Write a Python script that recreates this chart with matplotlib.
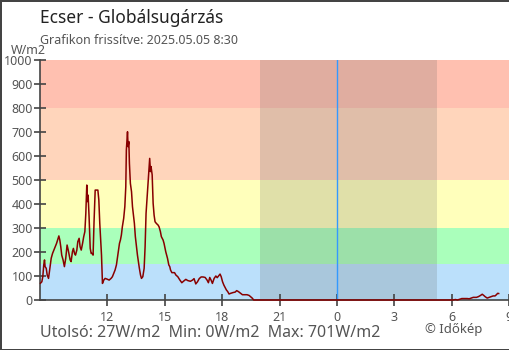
import matplotlib

matplotlib.use("Agg")

import matplotlib.pyplot as plt

plt.rcParams["font.family"] = ["Noto Sans", "DejaVu Sans"]

# hours since midnight of the first day (24+ = next day)
hours = [
    8.50, 8.57, 8.62, 8.67, 8.71, 8.74, 8.80, 8.85, 8.92, 8.99,
    9.06, 9.13, 9.20, 9.27, 9.34, 9.41, 9.46, 9.51, 9.56, 9.61,
    9.68, 9.75, 9.82, 9.89, 9.95, 10.00, 10.05, 10.10, 10.17, 10.22,
    10.28, 10.33, 10.40, 10.45, 10.52, 10.57, 10.63, 10.70, 10.76, 10.82,
    10.87, 10.92, 10.96, 10.99, 11.04, 11.10, 11.15, 11.20, 11.25, 11.30,
    11.36, 11.44, 11.50, 11.55, 11.60,
    11.69, 11.74, 11.81, 11.88, 11.98, 12.09, 12.19, 12.26, 12.33, 12.40,
    12.47, 12.52, 12.58, 12.63, 12.68, 12.73, 12.78, 12.85, 12.91, 12.96,
    12.99, 13.05, 13.08, 13.12, 13.15, 13.20, 13.26, 13.31, 13.36, 13.41,
    13.46, 13.52, 13.57, 13.62, 13.67, 13.73, 13.78, 13.85, 13.92, 13.97,
    14.02, 14.09, 14.16, 14.21, 14.25, 14.28, 14.34, 14.39, 14.44, 14.49,
    14.56, 14.65, 14.70, 14.77, 14.82, 14.91, 14.96, 15.05, 15.14, 15.21,
    15.26,
    15.30, 15.37, 15.51, 15.58, 15.68, 15.79, 15.89, 15.99, 16.10, 16.20,
    16.34, 16.45, 16.53, 16.62, 16.71, 16.80, 16.90, 17.00, 17.11, 17.21,
    17.28, 17.35, 17.42, 17.49, 17.58, 17.67, 17.74, 17.81, 17.89, 17.95,
    18.02, 18.09, 18.15, 18.22, 18.29, 18.36, 18.45, 18.57, 18.68, 18.76,
    18.85, 18.96, 19.06, 19.20, 19.30, 19.41, 19.48, 19.57, 19.65,
    30.00,
    30.08, 30.20, 30.30, 30.39, 30.46, 30.53, 30.67, 30.81, 30.92, 31.02,
    31.13, 31.30, 31.40, 31.51, 31.60, 31.68, 31.75, 31.86, 31.96, 32.07,
    32.17, 32.27, 32.34, 32.41, 32.46,
]
radiation = [
    70, 76, 97, 146, 167, 139, 132, 104, 90, 132,
    174, 194, 208, 222, 236, 254, 267, 250, 222, 187,
    167, 139, 174, 229, 208, 187, 167, 160, 201, 215,
    194, 187, 208, 243, 257, 222, 208, 236, 264, 285,
    361, 479, 410, 437, 347, 215, 194, 194, 187, 326,
    458, 458, 458, 417, 319,
    187, 69, 83, 90, 87, 83, 90, 97, 111, 125,
    146, 174, 208, 236, 250, 271, 305, 340, 389, 472,
    625, 701, 639, 660, 569, 486, 451, 389, 354, 319,
    264, 222, 187, 160, 132, 104, 90, 97, 132, 222,
    361, 444, 528, 590, 535, 556, 521, 403, 354, 326,
    319, 312, 305, 285, 264, 250, 236, 201, 174, 146,
    139,
    125, 114, 114, 104, 97, 83, 72, 79, 86, 81,
    78, 83, 89, 67, 76, 89, 96, 96, 94, 83,
    72, 94, 83, 69, 90, 100, 93, 100, 108, 97,
    76, 62, 53, 42, 35, 25, 28, 31, 33, 39,
    35, 28, 22, 22, 22, 19, 14, 8, 0,
    0,
    0, 2, 0, 2, 4, 6, 6, 6, 5, 8,
    11, 11, 14, 19, 24, 19, 14, 8, 11, 14,
    17, 17, 22, 28, 27,
]

# colour bands (W/m2)
band_edges = [0, 150, 300, 500, 800, 1000]
band_colors = ["#bbe0fb", "#aaffbb", "#ffffbb", "#ffd5bb", "#ffc0b0"]

night_start, night_end = 20.0, 29.23
midnight = 24
x_ticks = [12, 15, 18, 21, 24, 27, 30, 33]
x_labels = ["12", "15", "18", "21", "0", "3", "6", "9"]

fig = plt.figure(figsize=(5.1, 3.5), dpi=100)
fig.patch.set_edgecolor("#444444")
fig.patch.set_linewidth(2)
ax = fig.add_axes([40.5 / 510, 50 / 350, 468.5 / 510, 240 / 350])

for lo, hi, c in zip(band_edges[:-1], band_edges[1:], band_colors):
    ax.axhspan(lo, hi, color=c, lw=0, zorder=0)
ax.axvspan(night_start, night_end, color="#646464", alpha=0.2, lw=0, zorder=1)
ax.axvline(midnight, color="#3399ff", lw=1, zorder=2)

ax.plot(hours, radiation, color="#880000", lw=1.1, zorder=4, clip_on=False)

ax.set_xlim(8.5, 33.0)
ax.set_ylim(0, 1000)
ax.set_yticks(range(0, 1001, 100))
ax.set_xticks(x_ticks)
ax.set_xticklabels(x_labels)
for s in ["top", "right"]:
    ax.spines[s].set_visible(False)
for s in ["left", "bottom"]:
    ax.spines[s].set_color("#444444")
    ax.spines[s].set_linewidth(1.2)
ax.tick_params(direction="inout", length=9, width=1.2, color="#444444",
               labelcolor="#555555", labelsize=9)
ax.tick_params(axis="y", pad=1)

fig.text(40 / 510, 1 - 18 / 350, "Ecser - Globálsugárzás", fontsize=12.5,
         color="#222222", va="center")
fig.text(40 / 510, 1 - 40 / 350, "Grafikon frissítve: 2025.05.05 8:30",
         fontsize=9, color="#555555", va="center")
fig.text(11 / 510, 1 - 51 / 350, "W/m2", fontsize=9, color="#555555", va="center")
fig.text(40 / 510, 1 - 333 / 350, "Utolsó: 27W/m2  Min: 0W/m2  Max: 701W/m2",
         fontsize=11.5, color="#555555", va="center")
fig.text(425 / 510, 1 - 330 / 350, "© Időkép", fontsize=9.5, color="#555555",
         va="center")

fig.savefig("out.png", dpi=100, edgecolor=fig.get_edgecolor())
